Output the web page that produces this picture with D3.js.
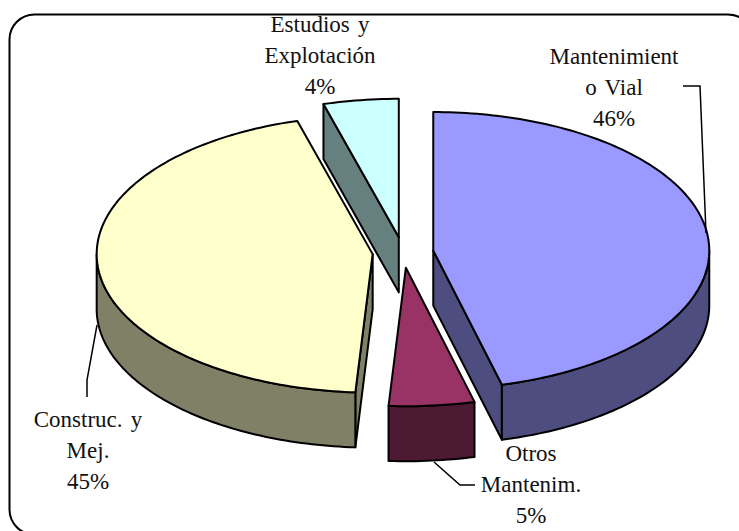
<!DOCTYPE html>
<html>
<head>
<meta charset="utf-8">
<script src="https://d3js.org/d3.v7.min.js"></script>
<style>
  html, body { margin: 0; padding: 0; background: #fff; overflow: hidden; }
  text { font-family: "Liberation Serif", serif; font-size: 23px; word-spacing: 2.5px; fill: #111; text-anchor: middle; }
</style>
</head>
<body>
<div id="chart"></div>
<script>
// shares, labels show them rounded
var categories = ["Mantenimiento Vial", "Otros Mantenim.", "Construc. y Mej.", "Estudios y Explotación"];
var shares = [46, 5, 44.6, 4.4];
var labelLines = [["Mantenimient", "o Vial"], ["Otros", "Mantenim."], ["Construc. y", "Mej."], ["Estudios y", "Explotación"]];
var topColors = ["#9999ff", "#993366", "#ffffcc", "#ccffff"];
var wallColors = ["#4d4d80", "#4d1a33", "#808066", "#668080"];

var width = 739, height = 531;
var cx = 403, cy = 252.5, rx = 276, ry = 138.5, depth = 55;
var explode = 30.5;

// label placement, first baseline of each block
var labelPos = [{x: 614, y: 64}, {x: 531, y: 461}, {x: 88, y: 427}, {x: 320, y: 32}];
var lineStep = 31;

var leaders = [
  [[683, 86], [700, 86], [706, 233]],
  [[434, 462], [460, 485], [475, 485]],
  [[97, 325], [87, 380], [87, 397]]
];

var svg = d3.select("#chart").append("svg")
    .attr("width", width)
    .attr("height", height)
    .style("display", "block");

svg.append("rect")
    .attr("x", 9.5).attr("y", 14.5)
    .attr("width", 743.5).attr("height", 520)
    .attr("rx", 25).attr("ry", 25)
    .attr("fill", "#fff")
    .attr("stroke", "#000")
    .attr("stroke-width", 2);

var pie = d3.pie().sort(null).value(function(d) { return d; });
var arcs = pie(shares);

var line = d3.line();

// ellipse projection, angle runs clockwise from the top
function project(a, c, dz) {
  return [c[0] + rx * Math.sin(a), c[1] - ry * Math.cos(a) + (dz || 0)];
}

function arcPoints(a0, a1, c, dz) {
  var n = Math.max(2, Math.ceil((a1 - a0) / 0.02));
  return d3.range(n + 1).map(function(i) {
    return project(a0 + (a1 - a0) * i / n, c, dz);
  });
}

arcs.forEach(function(d, i) {
  var mid = (d.startAngle + d.endAngle) / 2;
  d.centre = [cx + explode * Math.sin(mid), cy - explode * Math.cos(mid) * ry / rx];
  d.index = i;
});

function shape(g, pts, color) {
  g.append("path")
      .attr("d", line(pts) + "Z")
      .attr("fill", color)
      .attr("stroke", "#000")
      .attr("stroke-width", 2)
      .attr("stroke-linejoin", "round");
}

var slices = svg.append("g");

arcs.forEach(function(d, i) {
  var g = slices.append("g").attr("class", "slice");
  var c = d.centre;

  // cut faces that look towards the viewer
  [d.startAngle, d.endAngle].forEach(function(a, k) {
    var visible = k === 0 ? Math.sin(a) < -1e-6 : Math.sin(a) > 1e-6;
    if (!visible) return;
    var p = project(a, c);
    shape(g, [c, p, [p[0], p[1] + depth], [c[0], c[1] + depth]], wallColors[i]);
  });

  // front wall, only the part of the rim below the widest point
  var a0 = Math.max(d.startAngle, Math.PI / 2);
  var a1 = Math.min(d.endAngle, Math.PI * 1.5);
  if (a1 > a0) {
    var upper = arcPoints(a0, a1, c);
    var lower = arcPoints(a0, a1, c, depth).reverse();
    shape(g, upper.concat(lower), wallColors[i]);
  }

  // top face
  shape(g, [c].concat(arcPoints(d.startAngle, d.endAngle, c)), topColors[i]);
});

svg.selectAll(".leader")
    .data(leaders)
  .enter().append("path")
    .attr("class", "leader")
    .attr("d", line)
    .attr("fill", "none")
    .attr("stroke", "#000")
    .attr("stroke-width", 1.5);

var pct = d3.format(".0f");

labelLines.forEach(function(lines, i) {
  var rows = lines.concat(pct(shares[i]) + "%");
  svg.append("g").selectAll("text")
      .data(rows)
    .enter().append("text")
      .attr("x", labelPos[i].x)
      .attr("y", function(d, k) { return labelPos[i].y + k * lineStep; })
      .text(function(d) { return d; });
});
</script>
</body>
</html>
